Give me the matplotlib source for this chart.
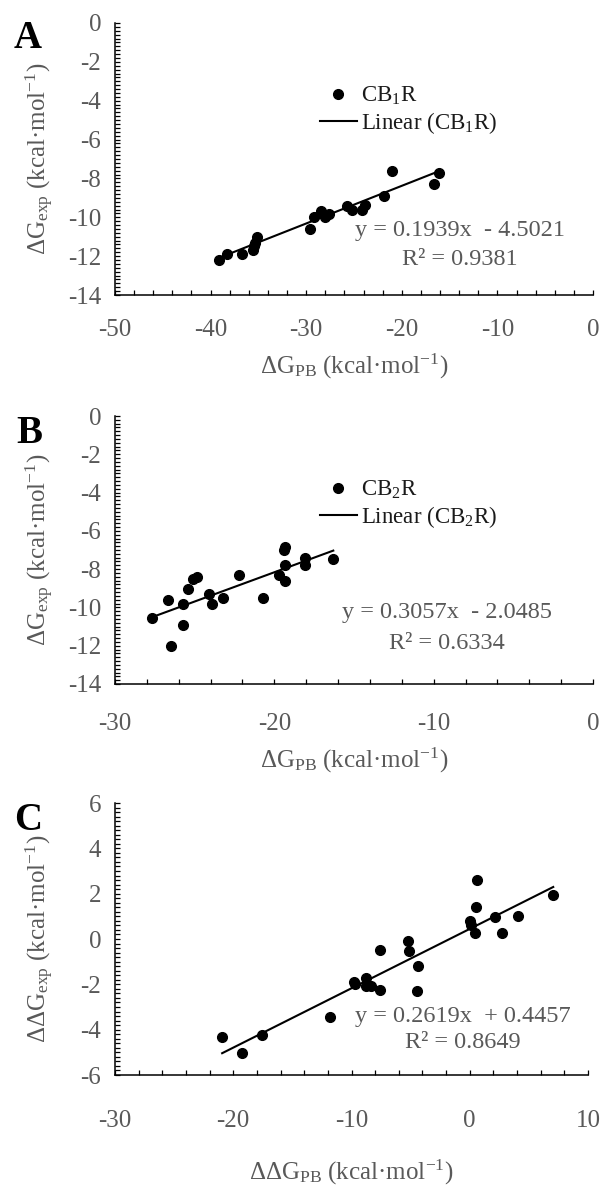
import matplotlib
matplotlib.use("Agg")
import matplotlib.pyplot as plt
from matplotlib.lines import Line2D
from matplotlib.ticker import MultipleLocator
import numpy as np

plt.rcParams['font.family'] = ['Liberation Serif', 'DejaVu Serif']
plt.rcParams['mathtext.fontset'] = 'custom'
plt.rcParams['mathtext.rm'] = 'Liberation Serif'
plt.rcParams['mathtext.it'] = 'Liberation Serif:italic'
plt.rcParams['axes.unicode_minus'] = False

# Panel A : CB1R
cb1_pb = [-39.1, -38.3, -36.7, -35.6, -35.5, -35.4, -35.1, -29.6, -29.2, -28.5,
          -28.0, -27.6, -25.7, -25.2, -24.2, -23.8, -21.9, -21.0, -16.6, -16.1]
cb1_exp = [-12.2, -11.9, -11.9, -11.7, -11.5, -11.3, -11.0, -10.6, -10.0, -9.7,
           -10.0, -9.85, -9.4, -9.6, -9.6, -9.35, -8.9, -7.6, -8.3, -7.7]
cb1_fit = (0.1939, -4.5021)
cb1_r2 = 0.9381

# Panel B : CB2R
cb2_pb = [-27.7, -26.7, -26.5, -25.75, -25.75, -25.4, -25.1, -24.85, -24.1, -23.9,
          -23.2, -22.2, -20.7, -19.7, -19.35, -19.35, -19.4, -19.3, -18.1, -18.1, -16.3]
cb2_exp = [-10.57, -9.6, -12.0, -10.9, -9.8, -9.06, -8.54, -8.4, -9.3, -9.8,
           -9.5, -8.3, -9.5, -8.3, -8.6, -7.8, -7.0, -6.85, -7.4, -7.8, -7.45]
cb2_fit = (0.3057, -2.0485)
cb2_r2 = 0.6334

# Panel C : selectivity (ddG)
dd_pb = [-20.94, -19.26, -17.58, -11.86, -9.81, -9.67, -8.78, -8.78, -8.36, -7.57,
         -7.57, -5.24, -5.13, -4.40, -4.49, 0.0, 0.1, 0.42, 0.56, 0.64,
         2.10, 2.72, 4.06, 7.06]
dd_exp = [-4.33, -5.05, -4.23, -3.44, -1.88, -2.0, -1.74, -2.07, -2.07, -2.24,
          -0.48, -0.09, -0.55, -1.17, -2.31, 0.78, 0.6, 0.27, 1.42, 2.62,
          0.99, 0.28, 1.03, 1.92]
dd_fit = (0.2619, 0.4457)
dd_r2 = 0.8649

gray = '#595959'
fs = 18

fig = plt.figure(figsize=(6.03, 11.88), dpi=100)
W, H = 603, 1188


def add_ax(left, right, top, bottom):
    return fig.add_axes([left / W, 1 - bottom / H, (right - left) / W, (bottom - top) / H])


def style(ax, xlim, ylim, xmajor, ymajor, xpad):
    ax.set_xlim(*xlim)
    ax.set_ylim(*ylim)
    ax.xaxis.set_major_locator(MultipleLocator(xmajor))
    ax.xaxis.set_minor_locator(MultipleLocator(2))
    ax.yaxis.set_major_locator(MultipleLocator(ymajor))
    ax.yaxis.set_minor_locator(MultipleLocator(0.2))
    for s in ['top', 'right']:
        ax.spines[s].set_visible(False)
    for s in ['left', 'bottom']:
        ax.spines[s].set_linewidth(1.1)
    ax.tick_params(which='both', direction='in', length=3.5, width=0.9, labelsize=fs,
                   labelcolor=gray)
    ax.tick_params(axis='x', pad=xpad)
    ax.tick_params(axis='y', pad=10)


def draw(ax, x, y, fit, r2, name, eq_pos, legend_pos, sign):
    ax.plot(x, y, 'o', color='black', ms=7, clip_on=False)
    xs = np.array([min(x), max(x)])
    ax.plot(xs, fit[0] * xs + fit[1], color='black', lw=1.5)
    eq = f"y = {fit[0]:.4f}x  {sign} {abs(fit[1]):.4f}"
    ax.text(eq_pos[0], eq_pos[1], eq, transform=ax.transAxes, ha='center', va='center',
            fontsize=17.5, color=gray)
    ax.text(eq_pos[0], eq_pos[2], f"R² = {r2:.4f}", transform=ax.transAxes, ha='center',
            va='center', fontsize=17.5, color=gray)
    if name:
        handles = [Line2D([], [], marker='o', ls='none', color='black', ms=7),
                   Line2D([], [], color='black', lw=1.5)]
        labels = [name, f"Linear ({name})"]
        ax.legend(handles, labels, loc='upper left', bbox_to_anchor=legend_pos,
                  frameon=False, fontsize=16.5, handlelength=1.6, handletextpad=0.2,
                  labelspacing=0.12, borderpad=0, borderaxespad=0, labelcolor='#1a1a1a')


ylab = r'$\Delta$G$_{\mathregular{exp}}$ (kcal·mol$^{\mathregular{-1}}$)'
xlab = r'$\Delta$G$_{\mathregular{PB}}$ (kcal·mol$^{\mathregular{-1}}$)'

# A
axA = add_ax(115, 593, 23, 295)
style(axA, (-50, 0), (-14, 0), 10, 2, 17)
draw(axA, cb1_pb, cb1_exp, cb1_fit, cb1_r2, r'CB$_{\mathregular{1}}$R',
     (0.722, 0.237, 0.13), (0.429, 0.772), '-')
axA.set_xlabel(xlab, fontsize=fs, color=gray, va='center')
axA.xaxis.set_label_coords(0.5, -0.261)
axA.set_ylabel(ylab, fontsize=fs, color=gray, va='center')
axA.yaxis.set_label_coords(-0.157, 0.5)

# B
axB = add_ax(115, 593, 416, 684)
style(axB, (-30, 0), (-14, 0), 10, 2, 21)
draw(axB, cb2_pb, cb2_exp, cb2_fit, cb2_r2, r'CB$_{\mathregular{2}}$R',
     (0.695, 0.265, 0.15), (0.429, 0.765), '-')
axB.set_xlabel(xlab, fontsize=fs, color=gray, va='center')
axB.xaxis.set_label_coords(0.5, -0.284)
axB.set_ylabel(ylab, fontsize=fs, color=gray, va='center')
axB.yaxis.set_label_coords(-0.157, 0.5)

# C
axC = add_ax(115, 588, 803, 1075)
style(axC, (-30, 10), (-6, 6), 10, 2, 25)
draw(axC, dd_pb, dd_exp, dd_fit, dd_r2, None, (0.736, 0.215, 0.12), None, '+')
axC.set_xlabel(r'$\Delta\Delta$G$_{\mathregular{PB}}$ (kcal·mol$^{\mathregular{-1}}$)',
               fontsize=fs, color=gray, va='center')
axC.xaxis.set_label_coords(0.5, -0.357)
axC.set_ylabel(r'$\Delta\Delta$G$_{\mathregular{exp}}$ (kcal·mol$^{\mathregular{-1}}$)',
               fontsize=fs, color=gray, va='center')
axC.yaxis.set_label_coords(-0.159, 0.5)

# panel letters
for letter, (px, py) in zip(['A', 'B', 'C'], [(28, 38), (29, 434), (28, 820)]):
    fig.text(px / W, 1 - py / H, letter, fontsize=28, fontweight='bold',
             ha='center', va='center', color='black')

fig.savefig('out.png', dpi=100)
